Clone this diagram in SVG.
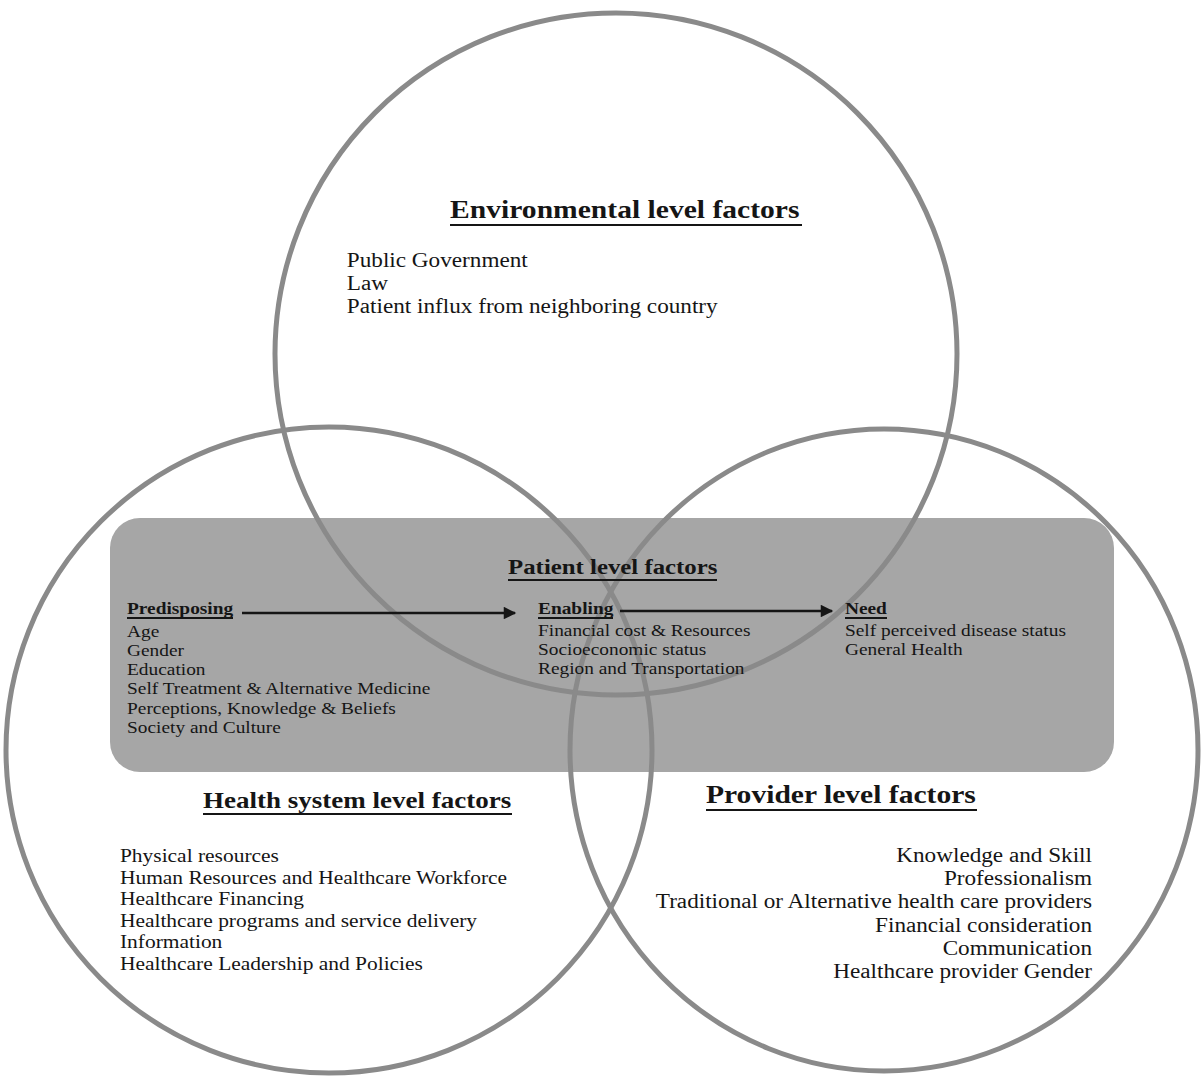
<svg xmlns="http://www.w3.org/2000/svg" width="1204" height="1076" viewBox="0 0 1204 1076">
<style>
text{font-family:"Liberation Serif","Times New Roman",serif;fill:#151515}
.t{font-weight:bold}
.it{font-size:20px}
.hs{font-size:18.5px}
.pt{font-size:16.7px}
.ring{fill:none;stroke:#8a8a8a;stroke-width:5}
.ul{stroke:#151515;stroke-width:2.2}
.arr{stroke:#151515;stroke-width:2.5;fill:none}
</style>
<defs>
<marker id="ah" viewBox="0 0 10 10" refX="9" refY="5" markerWidth="7" markerHeight="5" markerUnits="strokeWidth" orient="auto">
<path d="M0,0L10,5L0,10z" fill="#151515"/>
</marker>
</defs>
<rect width="1204" height="1076" fill="#fff"/>
<g id="patient-box">
<rect x="110" y="518" width="1004" height="254" rx="30" fill="#a6a6a6"/>
</g>
<g id="circles">
<circle id="env-circle" class="ring" cx="616" cy="354" r="341"/>
<circle id="health-circle" class="ring" cx="329" cy="750" r="323"/>
<ellipse id="provider-circle" class="ring" cx="884" cy="750" rx="314" ry="321"/>
</g>
<g id="environmental">
<g transform="scale(1.16,1)">
<text class="t" x="388" y="218" font-size="25.5">Environmental level factors</text>
<text class="it" x="299" y="267">Public Government</text>
<text class="it" x="299" y="290">Law</text>
<text class="it" x="299" y="313">Patient influx from neighboring country</text>
</g>
<line class="ul" x1="450" y1="225" x2="802" y2="225"/>
</g>
<g id="patient">
<g transform="scale(1.16,1)">
<text class="t" x="438" y="574" font-size="21.4">Patient level factors</text>
</g>
<line class="ul" x1="508" y1="580" x2="717" y2="580"/>
</g>
<g id="predisposing">
<g transform="scale(1.16,1)" class="pt">
<text class="t" x="109.5" y="614">Predisposing</text>
<text x="109.5" y="637">Age</text>
<text x="109.5" y="656">Gender</text>
<text x="109.5" y="675">Education</text>
<text x="109.5" y="694">Self Treatment &amp; Alternative Medicine</text>
<text x="109.5" y="714">Perceptions, Knowledge &amp; Beliefs</text>
<text x="109.5" y="733">Society and Culture</text>
</g>
<line class="ul" x1="127" y1="618" x2="233" y2="618"/>
</g>
<g id="enabling">
<g transform="scale(1.16,1)" class="pt">
<text class="t" x="463.8" y="614">Enabling</text>
<text x="463.8" y="636">Financial cost &amp; Resources</text>
<text x="463.8" y="655">Socioeconomic status</text>
<text x="463.8" y="674">Region and Transportation</text>
</g>
<line class="ul" x1="538" y1="618" x2="613" y2="618"/>
</g>
<g id="need">
<g transform="scale(1.16,1)" class="pt">
<text class="t" x="728.4" y="614">Need</text>
<text x="728.4" y="636">Self perceived disease status</text>
<text x="728.4" y="655">General Health</text>
</g>
<line class="ul" x1="845" y1="618" x2="887" y2="618"/>
</g>
<g id="health-system">
<g transform="scale(1.16,1)">
<text class="t" x="175" y="808" font-size="23.3">Health system level factors</text>
<g class="hs">
<text x="103.4" y="862">Physical resources</text>
<text x="103.4" y="884">Human Resources and Healthcare Workforce</text>
<text x="103.4" y="905">Healthcare Financing</text>
<text x="103.4" y="927">Healthcare programs and service delivery</text>
<text x="103.4" y="948">Information</text>
<text x="103.4" y="970">Healthcare Leadership and Policies</text>
</g>
</g>
<line class="ul" x1="203" y1="814" x2="512" y2="814"/>
</g>
<g id="provider">
<g transform="scale(1.16,1)">
<text class="t" x="608.6" y="803" font-size="25.5">Provider level factors</text>
<g class="it" text-anchor="end">
<text x="941.4" y="862">Knowledge and Skill</text>
<text x="941.4" y="885">Professionalism</text>
<text x="941.4" y="908">Traditional or Alternative health care providers</text>
<text x="941.4" y="932">Financial consideration</text>
<text x="941.4" y="955">Communication</text>
<text x="941.4" y="978">Healthcare provider Gender</text>
</g>
</g>
<line class="ul" x1="706" y1="810" x2="977" y2="810"/>
</g>
<g id="connectors">
<line class="arr" x1="242" y1="613" x2="515" y2="613" marker-end="url(#ah)"/>
<line class="arr" x1="620" y1="611" x2="832" y2="611" marker-end="url(#ah)"/>
</g>
</svg>
